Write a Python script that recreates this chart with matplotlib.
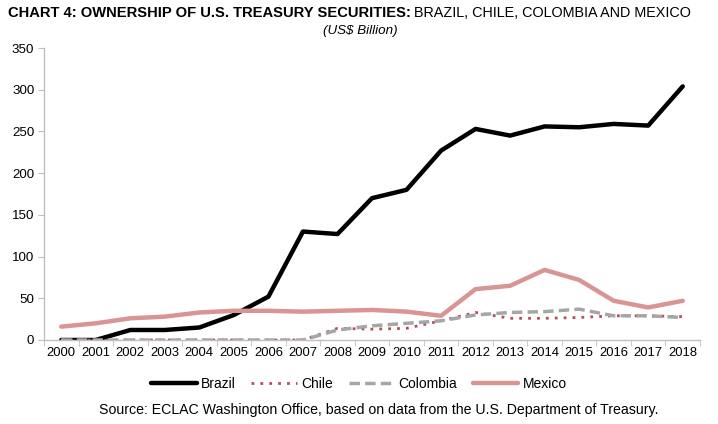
import numpy as np
import matplotlib
matplotlib.use("Agg")
import matplotlib.pyplot as plt

years = [str(y) for y in range(2000, 2019)]
brazil = [0, 0, 12, 12, 15, 30, 52, 130, 127, 170, 180, 227, 253, 245, 256, 255, 259, 257, 304]
chile = [0, 0, 0, 0, 0, 0, 0, 0, 14, 13, 14, 23, 33, 26, 26, 27, 29, 29, 28]
colombia = [0, 0, 0, 0, 0, 0, 0, 0, 12, 17, 20, 23, 30, 33, 34, 37, 29, 29, 27]
mexico = [16, 20, 26, 28, 33, 35, 35, 34, 35, 36, 34, 29, 61, 65, 84, 72, 47, 39, 47]

plt.rcParams['font.family'] = ['Liberation Sans', 'DejaVu Sans']

fig = plt.figure(figsize=(7.18, 4.24), dpi=100)
ax = fig.add_axes([44 / 718, 1 - 340 / 424, 656 / 718, 292 / 424])

x = np.arange(len(years))
ax.plot(x, brazil, color='black', lw=3.2, label='Brazil', solid_capstyle='round')
ax.plot(x, chile, color='#B0505A', lw=2, ls=(0, (1, 2.2)), label='Chile')
ax.plot(x, colombia, color='#A6A6A6', lw=2.5, ls=(0, (3, 1.5)), label='Colombia')
ax.plot(x, mexico, color='#D99594', lw=3.2, label='Mexico', solid_capstyle='round')

ax.set_xlim(-0.5, len(years) - 0.5)
ax.set_ylim(0, 350)
ax.set_yticks(range(0, 351, 50))
ax.set_xticks(x)
ax.set_xticklabels(years)
ax.set_xticks(np.arange(-0.5, len(years)), minor=True)
ax.tick_params(axis='x', which='major', length=0, pad=5, labelsize=9.4)
ax.tick_params(axis='x', which='minor', length=4, color='#BFBFBF', direction='out')
ax.tick_params(axis='y', length=4, color='#BFBFBF', labelsize=9.6, pad=3)
for s in ['top', 'right']:
    ax.spines[s].set_visible(False)
for s in ['left', 'bottom']:
    ax.spines[s].set_color('#BFBFBF')
    ax.spines[s].set_linewidth(1)

ax.legend(loc='center', bbox_to_anchor=(359 / 718, 1 - 384 / 424), bbox_transform=fig.transFigure,
          ncol=4, frameon=False, fontsize=10, handlelength=3.3, handletextpad=0.3,
          columnspacing=1.1)

fig.text(379 / 718, 1 - 410 / 424, "Source: ECLAC Washington Office, based on data from the U.S. Department of Treasury.",
         ha='center', va='center', fontsize=10.2)

# title in two parts: bold then regular
t1 = fig.text(8 / 718, 1 - 13 / 424, "CHART 4: OWNERSHIP OF U.S. TREASURY SECURITIES:",
              ha='left', va='center', fontsize=10.6, fontweight='bold')
fig.canvas.draw()
bb = t1.get_window_extent(fig.canvas.get_renderer())
fig.text(bb.x1 / 718 + 3 / 718, 1 - 13 / 424, "BRAZIL, CHILE, COLOMBIA AND MEXICO",
         ha='left', va='center', fontsize=10.4)
fig.text(360 / 718, 1 - 31 / 424, "(US$ Billion)", ha='center', va='center',
         fontsize=9.6, style='italic')

fig.savefig('out.png', dpi=100)
